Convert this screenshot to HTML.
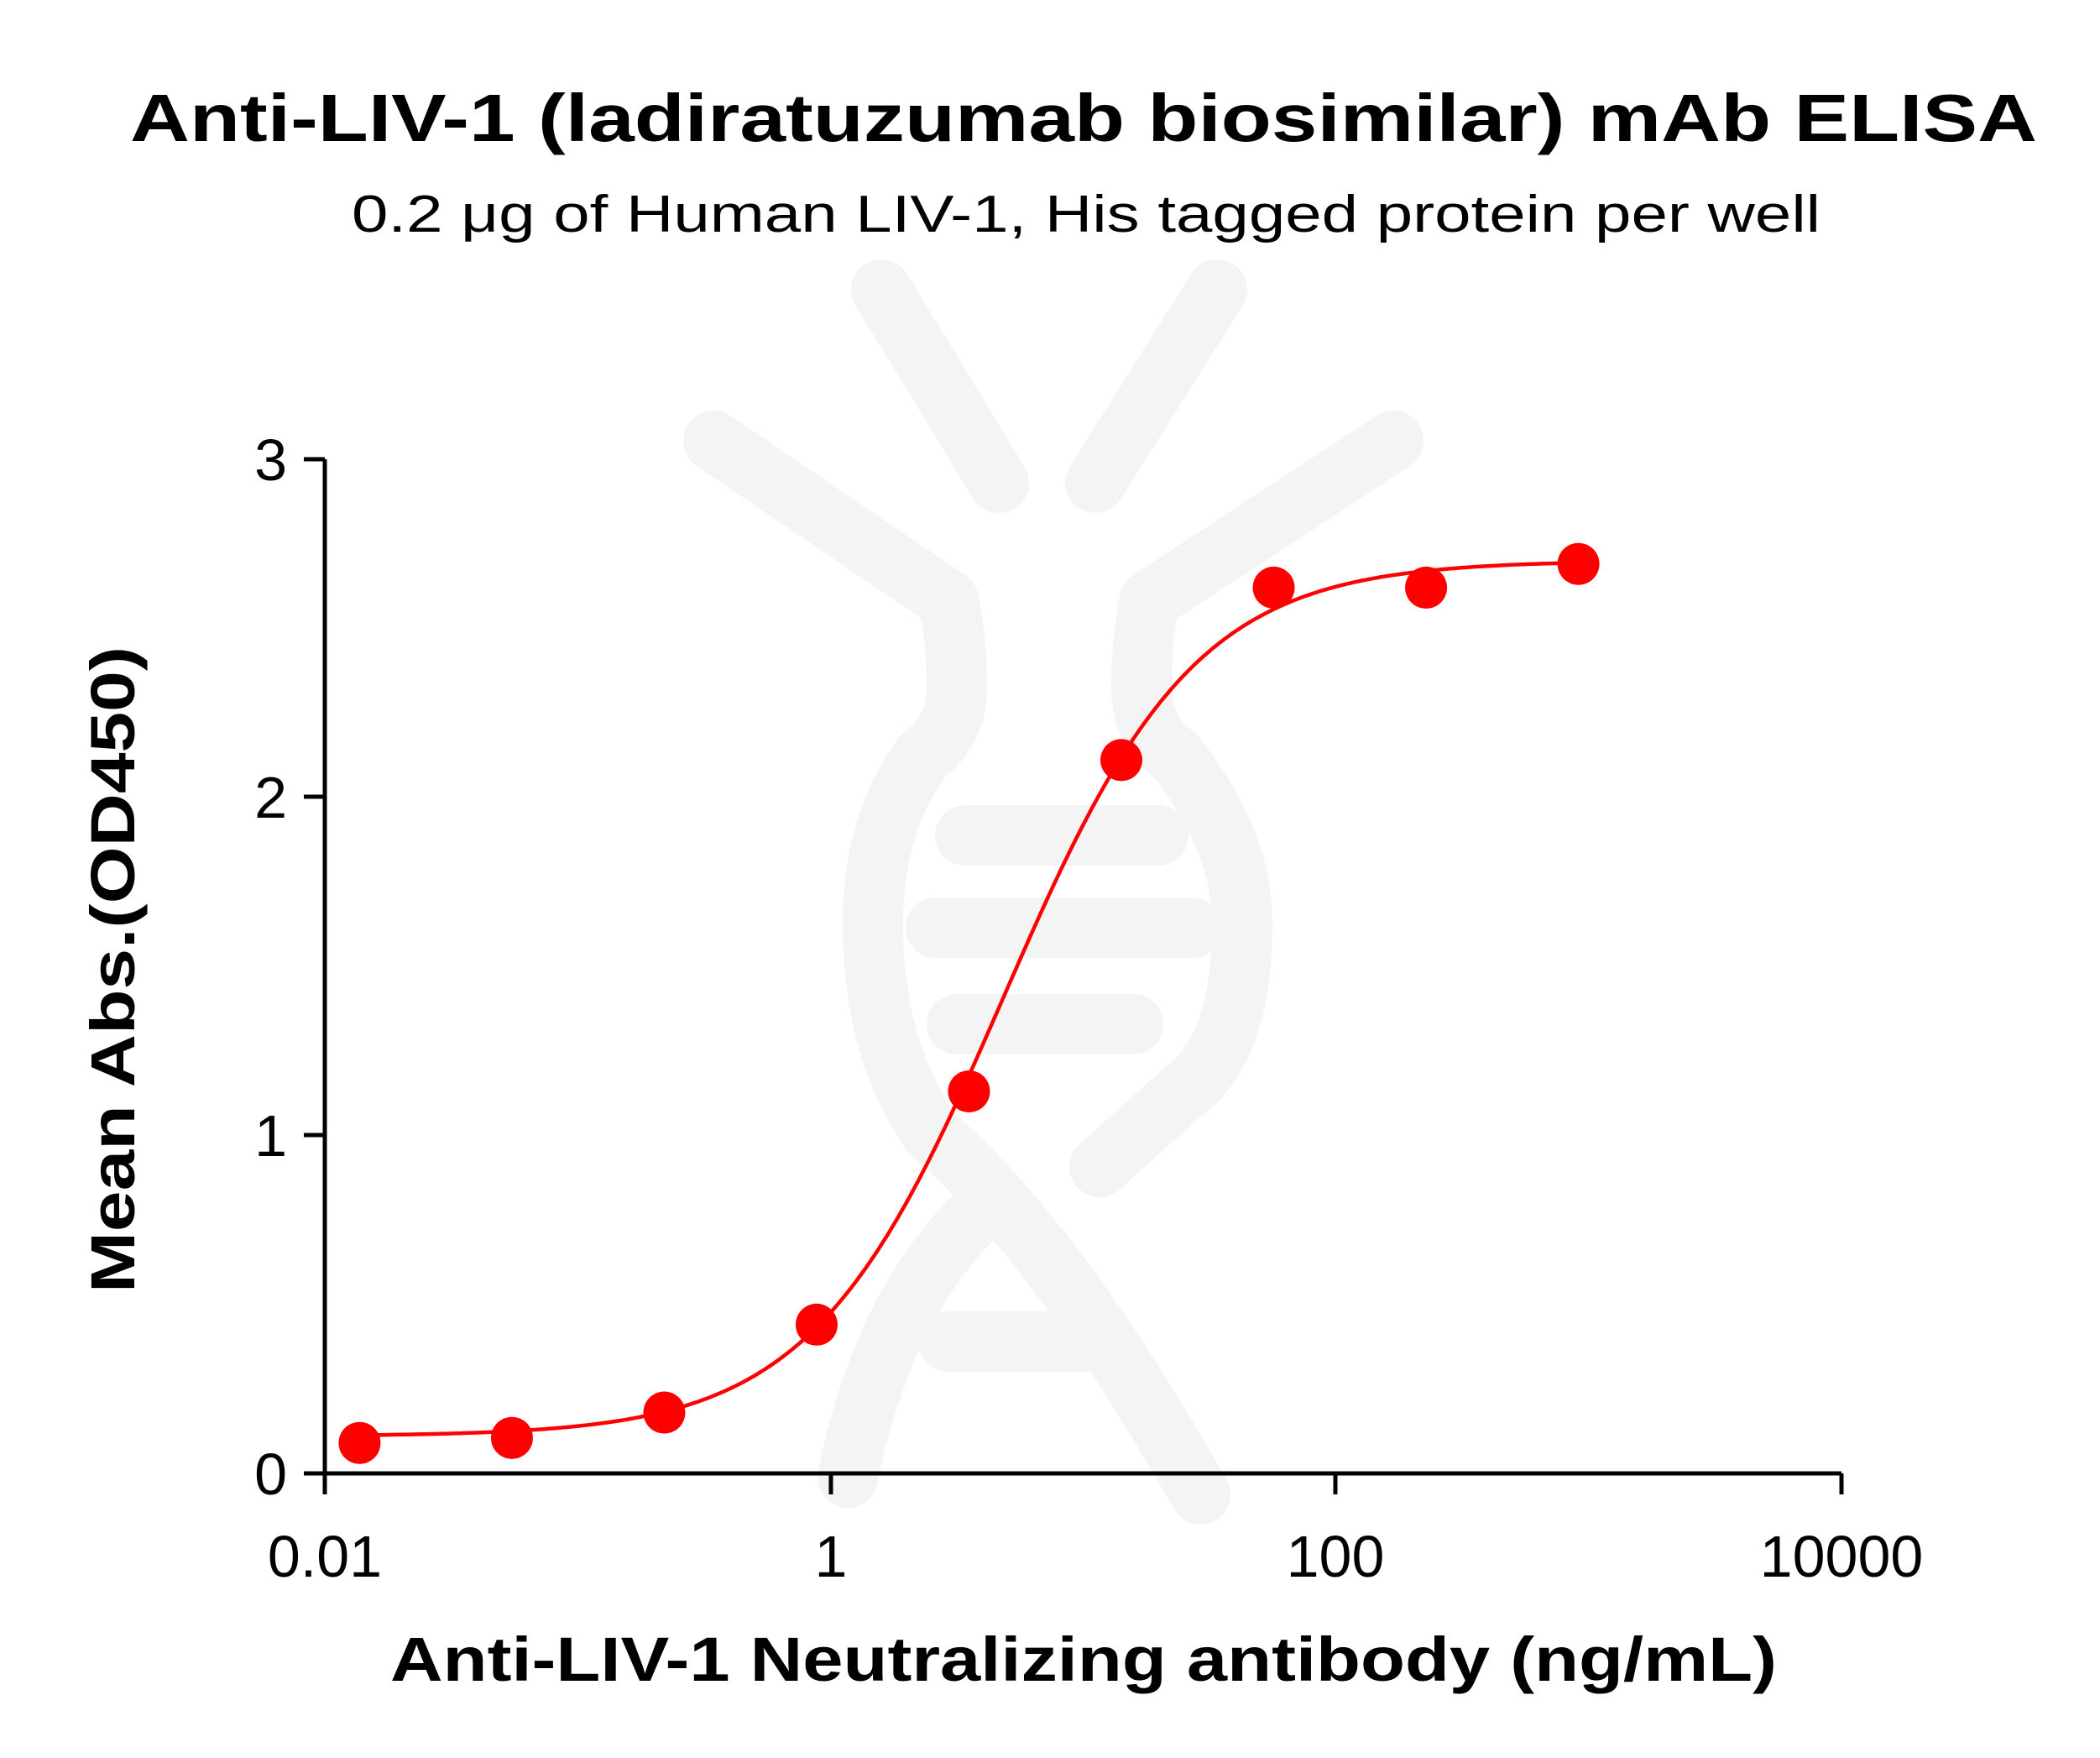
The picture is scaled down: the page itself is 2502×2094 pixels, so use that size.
<!DOCTYPE html>
<html><head><meta charset="utf-8"><style>html,body{margin:0;padding:0;background:#fff}svg{display:block}</style></head><body>
<svg id="s" width="2502" height="2094" viewBox="0 0 2502 2094" xmlns="http://www.w3.org/2000/svg" font-family="Liberation Sans, Arial, sans-serif">
<rect width="2502" height="2094" fill="#fff"/>
<g fill="none" stroke="#f4f4f4" stroke-width="72" stroke-linecap="round" stroke-linejoin="round">
<path d="M1050 345 L1190 575"/>
<path d="M1450 345 L1305 575"/>
<path d="M850 525 L1130 715 Q1140 760 1140 820"/>
<path d="M1660 525 L1370 715 Q1360 760 1360 820"/>
<path d="M1140 820 Q1140 870 1100 900 Q1040 980 1040 1100 Q1040 1250 1110 1350 Q1260 1480 1430 1780"/>
<path d="M1360 820 Q1360 870 1400 900 Q1480 1000 1480 1100 Q1480 1250 1410 1300 L1310 1390"/>
<path d="M1160 1450 Q1050 1560 1010 1760"/>
<path d="M1150 995 L1380 995"/>
<path d="M1115 1105 L1420 1105"/>
<path d="M1140 1220 L1350 1220"/>
<path d="M1130 1598 L1310 1598"/>
</g>
<text x="1291" y="168" font-size="80" font-weight="bold" text-anchor="middle" textLength="2272" lengthAdjust="spacingAndGlyphs">Anti-LIV-1 (ladiratuzumab biosimilar) mAb ELISA</text>
<text x="1294" y="276" font-size="62" text-anchor="middle" textLength="1750" lengthAdjust="spacingAndGlyphs">0.2 μg of Human LIV-1, His tagged protein per well</text>
<text x="1291" y="2002" font-size="74" font-weight="bold" text-anchor="middle" textLength="1652" lengthAdjust="spacingAndGlyphs">Anti-LIV-1 Neutralizing antibody (ng/mL)</text>
<text transform="translate(160,1155) rotate(-90)" font-size="74" font-weight="bold" text-anchor="middle" textLength="770" lengthAdjust="spacingAndGlyphs">Mean Abs.(OD450)</text>
<g stroke="#000" stroke-width="5" fill="none">
<path d="M387 547 L387 1755 L2194 1755"/>
<path d="M362 547 H387 M362 949 H387 M362 1352 H387 M362 1755 H387"/>
<path d="M387 1755 V1780 M990 1755 V1780 M1591 1755 V1780 M2194 1755 V1780"/>
</g>
<g font-size="70" text-anchor="end">
<text x="342" y="572">3</text><text x="342" y="974">2</text><text x="342" y="1377">1</text><text x="342" y="1780">0</text>
</g>
<g font-size="70" text-anchor="middle">
<text x="387" y="1878">0.01</text><text x="990" y="1878">1</text><text x="1591" y="1878">100</text><text x="2194" y="1878">10000</text>
</g>
<path id="c" fill="none" stroke="#f00" stroke-width="4.5"/>
<g id="pts" fill="#f00"></g>
</svg>
<script>
var X=function(v){return 387+(Math.log10(v)+2)*301.5};
var Y=function(v){return 1755-v*402.7};
var d="",lo=Math.log10(0.01372),hi=Math.log10(0.01372*65536);
for(var i=0;i<=400;i++){var l=lo+(hi-lo)*i/400;var y=0.11+2.59/(1+Math.pow(10,1.15*(0.68-l)));d+=(i?"L":"M")+X(Math.pow(10,l)).toFixed(1)+" "+Y(y).toFixed(1);}
document.getElementById("c").setAttribute("d",d);
var ys=[0.09,0.105,0.18,0.44,1.13,2.11,2.62,2.62,2.69],g=document.getElementById("pts");
for(var k=0;k<9;k++){var c=document.createElementNS("http://www.w3.org/2000/svg","circle");c.setAttribute("cx",X(0.01372*Math.pow(4,k)));c.setAttribute("cy",Y(ys[k]));c.setAttribute("r",25);g.appendChild(c);}
</script>
</body></html>
